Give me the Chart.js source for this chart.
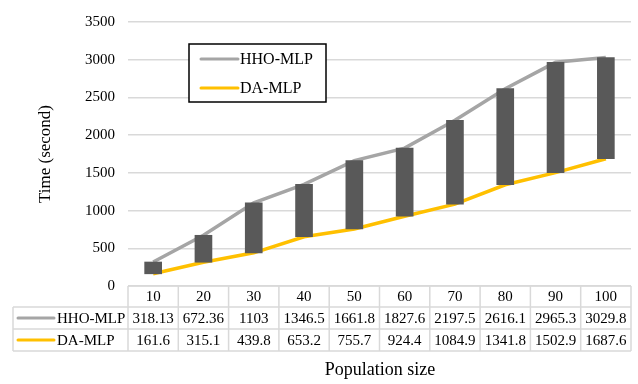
<!DOCTYPE html>
<html>
<head>
<meta charset="utf-8">
<script src="https://cdn.jsdelivr.net/npm/chart.js@4/dist/chart.umd.min.js"></script>
<style>
  html, body { margin: 0; padding: 0; background: #fff; }
  #wrap { width: 638px; height: 384px; position: relative; }
</style>
</head>
<body>
<div id="wrap"><canvas id="chart" width="638" height="384"></canvas></div>
<script>
const popSizes = ['10', '20', '30', '40', '50', '60', '70', '80', '90', '100'];
const hhoValues = [318.13, 672.36, 1103, 1346.5, 1661.8, 1827.6, 2197.5, 2616.1, 2965.3, 3029.8];
const daValues = [161.6, 315.1, 439.8, 653.2, 755.7, 924.4, 1084.9, 1341.8, 1502.9, 1687.6];
const yTicks = [0, 500, 1000, 1500, 2000, 2500, 3000, 3500];

const serif = '"Liberation Serif", "Times New Roman", serif';
const gray = '#a5a5a5';
const gold = '#ffc000';
const gridColor = '#d9d9d9';

// legend box + data table under the plot, positioned from the chart's own scales
const extras = {
  id: 'extras',
  afterDraw(chart) {
    const ctx = chart.ctx;
    const xs = chart.scales.x;
    const area = chart.chartArea;
    const n = popSizes.length;
    const cw = area.width / n;
    const rows = [286, 307, 329, 351];
    const lineSets = chart.data.datasets.filter(d => d.type === 'line');

    ctx.save();
    // table grid
    ctx.strokeStyle = gridColor;
    ctx.lineWidth = 1.5;
    ctx.beginPath();
    ctx.moveTo(area.left, rows[0]); ctx.lineTo(area.right, rows[0]);
    for (let r = 1; r < rows.length; r++) {
      ctx.moveTo(13, rows[r]); ctx.lineTo(area.right, rows[r]);
    }
    ctx.moveTo(13, rows[1]); ctx.lineTo(13, rows[3]);
    for (let i = 0; i <= n; i++) {
      const x = area.left + i * cw;
      ctx.moveTo(x, rows[0]); ctx.lineTo(x, rows[3]);
    }
    ctx.stroke();

    ctx.fillStyle = '#000';
    ctx.font = '15px ' + serif;
    ctx.textAlign = 'center';
    ctx.textBaseline = 'middle';
    popSizes.forEach((p, i) => {
      const x = xs.getPixelForValue(i);
      ctx.fillText(p, x, (rows[0] + rows[1]) / 2 + 1);
      ctx.fillText(String(hhoValues[i]), x, (rows[1] + rows[2]) / 2 + 1);
      ctx.fillText(String(daValues[i]), x, (rows[2] + rows[3]) / 2 + 1);
    });

    // row headers
    lineSets.forEach((ds, k) => {
      const y = (rows[k + 1] + rows[k + 2]) / 2;
      ctx.strokeStyle = ds.borderColor;
      ctx.lineWidth = 3;
      ctx.lineCap = 'round';
      ctx.beginPath(); ctx.moveTo(18, y); ctx.lineTo(54, y); ctx.stroke();
      ctx.textAlign = 'left';
      ctx.fillText(ds.label, 57, y + 1);
    });

    // legend
    ctx.fillStyle = '#fff';
    ctx.fillRect(189, 44, 137, 58);
    ctx.strokeStyle = '#000';
    ctx.lineWidth = 1.5;
    ctx.lineCap = 'butt';
    ctx.strokeRect(189, 44, 137, 58);
    ctx.fillStyle = '#000';
    ctx.font = '16px ' + serif;
    lineSets.forEach((ds, k) => {
      const y = 59 + k * 29;
      ctx.strokeStyle = ds.borderColor;
      ctx.lineWidth = 3;
      ctx.lineCap = 'round';
      ctx.beginPath(); ctx.moveTo(201, y); ctx.lineTo(238, y); ctx.stroke();
      ctx.textAlign = 'left';
      ctx.fillText(ds.label, 240, y + 1);
    });

    // x axis title
    ctx.textAlign = 'center';
    ctx.font = '18px ' + serif;
    ctx.fillText('Population size', 380, 370);
    ctx.restore();
  }
};

new Chart(document.getElementById('chart'), {
  type: 'bar',
  data: {
    labels: popSizes,
    datasets: [
      {
        type: 'bar',
        label: 'Range',
        data: daValues.map((d, i) => [d, hhoValues[i]]),
        backgroundColor: '#595959',
        barThickness: 17,
        order: 0
      },
      {
        type: 'line',
        label: 'HHO-MLP',
        data: hhoValues,
        borderColor: gray,
        borderWidth: 3.5,
        pointRadius: 0,
        tension: 0,
        order: 1
      },
      {
        type: 'line',
        label: 'DA-MLP',
        data: daValues,
        borderColor: gold,
        borderWidth: 3.5,
        pointRadius: 0,
        tension: 0,
        order: 2
      }
    ]
  },
  options: {
    responsive: false,
    animation: false,
    layout: { padding: { top: 17, right: 7, bottom: 98, left: 0 } },
    plugins: { legend: { display: false }, tooltip: { enabled: false } },
    scales: {
      x: { display: false, offset: true },
      y: {
        min: 0,
        max: 3500,
        afterBuildTicks: s => { s.ticks = yTicks.map(v => ({ value: v })); },
        afterFit: s => { s.width = 128; },
        border: { display: false },
        grid: { color: gridColor, lineWidth: 1.5, drawTicks: false },
        ticks: {
          padding: 13,
          color: '#000',
          font: { family: serif, size: 15 },
          callback: v => String(v)
        },
        title: {
          display: true,
          text: 'Time (second)',
          color: '#000',
          font: { family: serif, size: 17 },
          padding: { top: 35, bottom: 0 }
        }
      }
    }
  },
  plugins: [extras]
});
</script>
</body>
</html>
